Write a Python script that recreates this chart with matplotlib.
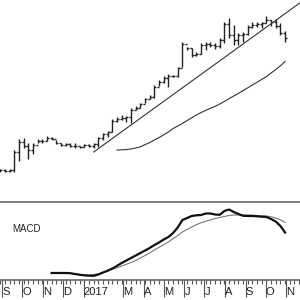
import pandas as pd
import matplotlib
matplotlib.use("Agg")
import matplotlib.pyplot as plt
import matplotlib.dates as mdates
from matplotlib.ticker import FuncFormatter

plt.rcParams['font.family'] = ['Liberation Sans', 'DejaVu Sans']

# weekly bars, Mondays
weeks = pd.date_range('2016-08-29', periods=62, freq='W-MON')

highs = [25.5, 25.5, 25.5, 35.0, 40.5, 41.0, 38.5, 38.5, 40.5, 40.5,
         42.0, 41.5, 40.0, 38.5, 38.5, 38.5, 38.5, 37.0, 38.0, 38.0,
         38.5, 41.5, 43.5, 44.5, 50.5, 51.5, 52.5, 52.0, 56.0, 57.0,
         58.5, 61.0, 62.5, 67.5, 70.0, 72.0, 73.0, 72.5, 76.5, 89.0,
         86.5, 86.0, 84.0, 88.5, 89.0, 89.0, 88.5, 91.0, 99.0, 101.0,
         97.5, 93.5, 94.0, 97.5, 99.0, 99.0, 99.0, 102.0, 100.0, 100.5,
         98.5, 94.5]
lows = [24.0, 24.0, 24.0, 24.0, 29.5, 36.0, 30.5, 33.0, 38.5, 38.5,
        39.5, 40.0, 38.0, 37.0, 37.0, 36.5, 36.0, 36.0, 36.5, 36.5,
        36.0, 36.5, 40.0, 41.5, 44.0, 49.0, 50.0, 49.0, 48.5, 55.0,
        56.0, 58.5, 60.5, 61.0, 67.0, 68.5, 66.5, 71.5, 71.5, 76.5,
        85.0, 81.5, 82.0, 83.0, 85.0, 86.5, 85.5, 86.0, 88.5, 91.0,
        87.5, 87.5, 89.0, 92.5, 96.0, 96.5, 96.0, 98.5, 97.0, 96.0,
        92.5, 89.0]
closes = [25.0, 24.5, 25.0, 34.0, 39.0, 37.0, 35.0, 37.5, 39.5, 39.5,
          41.0, 40.5, 38.5, 37.5, 38.0, 37.0, 37.0, 36.5, 37.5, 37.0,
          38.0, 41.0, 43.0, 44.0, 49.5, 50.5, 51.0, 51.5, 55.0, 56.0,
          58.0, 60.5, 61.5, 66.5, 69.0, 71.0, 72.0, 72.0, 76.0, 88.0,
          86.0, 82.5, 83.0, 87.5, 88.0, 87.5, 87.0, 90.0, 98.0, 92.5,
          90.0, 92.5, 93.0, 96.5, 97.5, 98.0, 98.5, 100.0, 99.0, 97.0,
          93.5, 91.0]
opens = [25.0] + closes[:-1]

# long moving average, from the 25th bar on
ma_vals = [35.0, 35.1, 35.2, 35.5, 36.0, 36.6, 37.7, 38.7, 40.0, 41.2,
           42.6, 44.0, 45.7, 47.0, 48.3, 49.7, 51.1, 52.5, 53.7, 54.8,
           55.9, 56.8, 58.0, 59.3, 60.7, 62.0, 63.3, 64.7, 66.1, 67.5,
           68.9, 70.3, 71.7, 73.5, 75.2, 77.1, 79.2]
ma_dates = weeks[25:]

# trend line end points
trend_dates = pd.to_datetime(['2017-01-16', '2017-11-21'])
trend_vals = [34.0, 108.5]

# MACD, from the 12th bar on
macd = [-2.3, -2.3, -2.3, -2.3, -2.32, -2.4, -2.48, -2.53, -2.57, -2.58,
        -2.45, -2.25, -2.07, -1.85, -1.58, -1.3, -1.05, -0.8, -0.55, -0.3,
        -0.05, 0.2, 0.5, 0.75, 1.05, 1.3, 1.7, 2.25, 3.0, 3.2,
        3.4, 3.47, 3.5, 3.65, 3.65, 3.55, 3.52, 3.9, 4.05, 3.8,
        3.6, 3.42, 3.4, 3.4, 3.37, 3.33, 3.3, 3.1, 2.85, 2.4,
        1.75]
signal = [-2.3, -2.3, -2.3, -2.3, -2.32, -2.38, -2.44, -2.5, -2.5, -2.45,
          -2.38, -2.25, -2.1, -1.93, -1.78, -1.6, -1.43, -1.25, -1.05, -0.8,
          -0.55, -0.3, 0.0, 0.27, 0.53, 0.8, 1.12, 1.45, 1.8, 2.05,
          2.3, 2.53, 2.72, 2.87, 3.0, 3.15, 3.25, 3.35, 3.45, 3.5,
          3.5, 3.5, 3.5, 3.48, 3.45, 3.42, 3.4, 3.32, 3.2, 3.02,
          2.75]
macd_dates = weeks[11:]

# Feb gets no label (the year label sits there)
label_months = [1, 3, 4, 5, 6, 7, 8, 9, 10, 11, 12]
month_letters = {1: '2017', 3: 'M', 4: 'A', 5: 'M', 6: 'J', 7: 'J',
                 8: 'A', 9: 'S', 10: 'O', 11: 'N', 12: 'D'}

bar_col = '#222222'
fig = plt.figure(figsize=(3, 3), dpi=100)
ax1 = fig.add_axes([0, 98 / 300, 1, 202 / 300])
ax2 = fig.add_axes([0, 20 / 300, 1, 78 / 300], sharex=ax1)

half = pd.Timedelta(days=3)
ax1.vlines(weeks, lows, highs, color=bar_col, lw=1)
ax1.hlines(opens, weeks - half, weeks, color=bar_col, lw=1)
ax1.hlines(closes, weeks, weeks + half, color=bar_col, lw=1)
ax1.plot(trend_dates, trend_vals, color='#333333', lw=0.8)
ax1.plot(ma_dates, ma_vals, color='#333333', lw=0.8)
ax1.set_ylim(9, 110)
for s in ax1.spines.values():
    s.set_visible(False)
ax1.tick_params(left=False, labelleft=False, bottom=False, labelbottom=False)

ax2.plot(macd_dates, signal, color='#777777', lw=0.8)
ax2.plot(macd_dates, macd, color='#111111', lw=1.6)
ax2.set_ylim(-3, 4.8)
ax2.text(0.04, 0.65, 'MACD', transform=ax2.transAxes, fontsize=7,
         va='center', ha='left', color='#222222')
for side in ('left', 'right'):
    ax2.spines[side].set_visible(False)
for side in ('top', 'bottom'):
    ax2.spines[side].set_color('#666666')
    ax2.spines[side].set_linewidth(1.2)
ax2.tick_params(left=False, labelleft=False)

left = pd.Timestamp('2016-09-01') - pd.Timedelta(days=3.45)
ax2.set_xlim(left, left + pd.Timedelta(days=449.8))
ax2.xaxis.set_major_locator(mdates.MonthLocator(bymonth=label_months))
ax2.xaxis.set_minor_locator(mdates.WeekdayLocator(byweekday=mdates.MO))
ax2.xaxis.set_major_formatter(FuncFormatter(
    lambda v, p: month_letters[mdates.num2date(v).month]))
ax2.tick_params(axis='x', which='major', length=12.5, width=0.8,
                color='#555555', pad=-7.5, labelsize=8, labelcolor='#222222')
ax2.tick_params(axis='x', which='minor', length=3, width=0.8, color='#555555')
for lab in ax2.get_xticklabels():
    lab.set_horizontalalignment('left')
    lab.set_verticalalignment('top')

fig.savefig('out.png', dpi=100)
